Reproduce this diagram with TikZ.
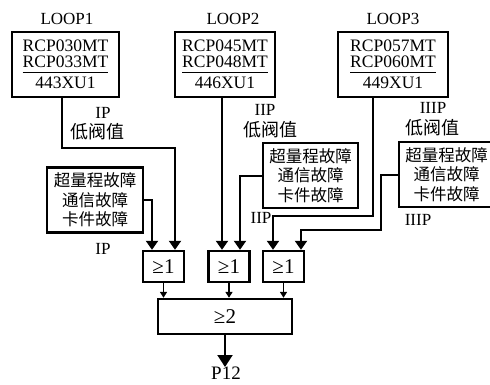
\documentclass[tikz,border=0pt]{standalone}
\usepackage{fontspec}
\setmainfont{Liberation Serif}
\newfontfamily\cjk{Noto Sans CJK SC}
\usetikzlibrary{arrows.meta}
\newlength\barlen
\newcommand\barunder[1]{\settowidth\barlen{#1}\rlap{\rule[-5pt]{\barlen}{1.3pt}}#1}

\begin{document}
\begin{tikzpicture}[x=1pt, y=-1pt,
        loopbox/.style={rectangle, draw, line width=2.4pt, minimum height=65pt, inner sep=0pt, align=center, font=\fontsize{17.5}{16}\selectfont},
        faultbox/.style={rectangle, draw, line width=2.2pt, minimum height=65pt, inner sep=0pt, align=center, font=\cjk\fontsize{16.5}{19.5}\selectfont},
        gatebox/.style={rectangle, draw, line width=2.4pt, minimum width=41pt, minimum height=31pt, inner sep=0pt, font=\fontsize{21}{21}\selectfont},
        lbl/.style={inner sep=0pt, font=\fontsize{17}{17}\selectfont},
        cnlbl/.style={inner sep=0pt, font=\cjk\fontsize{18}{18}\selectfont},
        line/.style={draw, line width=2pt, -{Triangle[length=9pt,width=12pt]}},
        tick/.style={draw, line width=1.6pt, -{Triangle[length=6pt,width=7pt]}}]

        \clip (0,0) rectangle (490,384);

        \node [lbl] (nameA) at (67,19) {LOOP1};
        \node [lbl] (nameB) at (233,19) {LOOP2};
        \node [lbl] (nameC) at (393,19) {LOOP3};

        \node [loopbox, minimum width=107pt] (loopA) at (65.5,64.5) {RCP030MT\\\barunder{RCP033MT}\\[3pt]443XU1};
        \node [loopbox, minimum width=100pt] (loopB) at (225,64.5) {RCP045MT\\\barunder{RCP048MT}\\[3pt]446XU1};
        \node [loopbox, minimum width=110pt] (loopC) at (393,64.5) {RCP057MT\\\barunder{RCP060MT}\\[3pt]449XU1};

        \node [faultbox, minimum width=96pt] (faultA) at (95,200) {超量程故障\\通信故障\\卡件故障};
        \node [faultbox, minimum width=95pt] (faultB) at (310.5,175.5) {超量程故障\\通信故障\\卡件故障};
        \node [faultbox, minimum width=95pt] (faultC) at (446.5,174.5) {超量程故障\\通信故障\\卡件故障};

        \node [gatebox] (g1) at (163.5,266.5) {≥1};
        \node [gatebox] (g2) at (229,266.5) {≥1};
        \node [gatebox] (g3) at (283.5,266.5) {≥1};
        \node [gatebox, minimum width=134pt, minimum height=35pt] (g4) at (225,316.5) {≥2};
        \node [lbl, font=\fontsize{19}{19}\selectfont, anchor=north] (p12) at (226,367) {P12};

        % signal labels
        \node [lbl] (lowA) at (103,113) {IP};
        \node [cnlbl] (lowAcn) at (97,132) {低阀值};
        \node [lbl] (lowB) at (265,110) {IIP};
        \node [cnlbl] (lowBcn) at (270,130) {低阀值};
        \node [lbl] (lowC) at (433,108) {IIIP};
        \node [cnlbl] (lowCcn) at (432,128) {低阀值};
        \node [lbl] (tagA) at (103,249) {IP};
        \node [lbl] (tagB) at (261,218) {IIP};
        \node [lbl] (tagC) at (418,220) {IIIP};

        \coordinate (g1a) at ([xshift=-11.5pt]g1.north);
        \coordinate (g1b) at ([xshift=11.5pt]g1.north);
        \coordinate (g2a) at ([xshift=-7pt]g2.north);
        \coordinate (g2b) at ([xshift=11pt]g2.north);
        \coordinate (g3a) at ([xshift=-10.5pt]g3.north);
        \coordinate (g3b) at ([xshift=17.5pt]g3.north);

        \path [line] ([xshift=-3.5pt]loopA.south) -- ++(0,50) -| (g1b);
        \path [line] (faultA.east) -| (g1a);
        \path [line] (g2a |- loopB.south) -- (g2a);
        \path [line] (faultB.west) -| (g2b);
        \path [line] ([xshift=-20pt]loopC.south) -- ++(0,118) -| (g3a);
        \path [line] (faultC.west) -- ++(-17,0) -- ++(0,55) -| (g3b);

        \path [tick] (g1.south) -- (g1.south |- g4.north);
        \path [tick] (g2.south) -- (g2.south |- g4.north);
        \path [tick] (g3.south) -- (g3.south |- g4.north);
        \path [line, -{Triangle[length=12pt,width=15pt]}] (g4.south) -- (g4.south |- p12.north);
    \end{tikzpicture}
\end{document}
